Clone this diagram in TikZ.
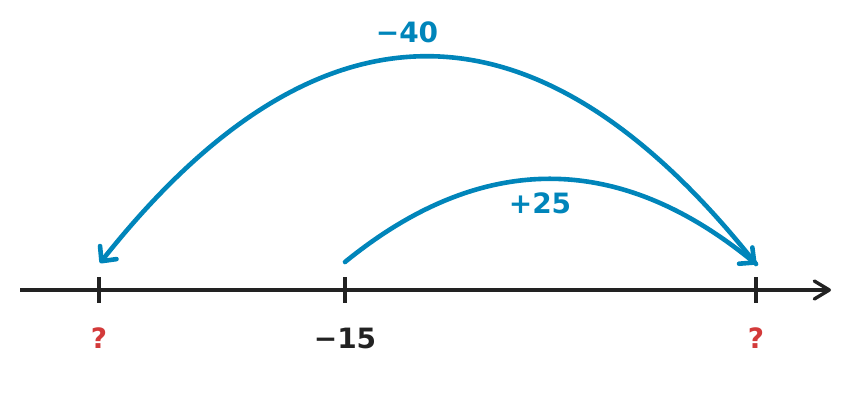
\documentclass[tikz,border=0pt]{standalone}
\usepackage{fontspec}
\setmainfont{DejaVu Sans}
\usetikzlibrary{arrows.meta}
\definecolor{jumpblue}{RGB}{0,133,186}
\definecolor{qred}{RGB}{211,58,58}
\definecolor{axisblack}{RGB}{34,34,34}
\begin{document}
\begin{tikzpicture}[x=1pt,y=-1pt,
  axisline/.style={draw=axisblack,line width=3.4pt},
  tickmark/.style={draw=axisblack,line width=3.4pt},
  jump/.style={draw=jumpblue,line width=4.6pt,line cap=round,
    -{Straight Barb[length=11pt,width=21pt,round]}},
  numlabel/.style={font=\bfseries\fontsize{28}{30}\selectfont,text=axisblack,inner sep=0pt},
  qlabel/.style={font=\bfseries\fontsize{28}{30}\selectfont,text=qred,inner sep=0pt},
  jumplabel/.style={font=\bfseries\fontsize{28}{30}\selectfont,text=jumpblue,inner sep=0pt}]
\useasboundingbox (0,0) rectangle (864,416);
% axis
\coordinate (axL) at (20,290);
\coordinate (axR) at (831,290);
\draw[axisline,-{Straight Barb[length=15pt,width=18pt,round]}] (axL) -- (axR);
% ticks
\coordinate (tAtop) at (99,277);  \coordinate (tAbot) at (99,303);
\coordinate (tBtop) at (345,277); \coordinate (tBbot) at (345,303);
\coordinate (tCtop) at (756,277); \coordinate (tCbot) at (756,303);
\draw[tickmark] (tAtop) -- (tAbot);
\draw[tickmark] (tBtop) -- (tBbot);
\draw[tickmark] (tCtop) -- (tCbot);
% labels
\node[qlabel] (qA) at (99,338) {?};
\node[numlabel] (n15) at (345,338) {−15};
\node[qlabel] (qC) at (756,338) {?};
% jump points
\coordinate (s25) at (345,262);
\coordinate (e25) at (756,264);
\coordinate (e40) at (100,263);
\draw[jump] (s25) .. controls (481.7,150.7) and (618.7,151.7) .. (e25);
\draw[jump] (e25) .. controls (537.3,-12.3) and (318.3,-12.3) .. (e40);
\node[jumplabel] (l40) at (407,32) {−40};
\node[jumplabel] (l25) at (540,203) {+25};
\end{tikzpicture}
\end{document}
